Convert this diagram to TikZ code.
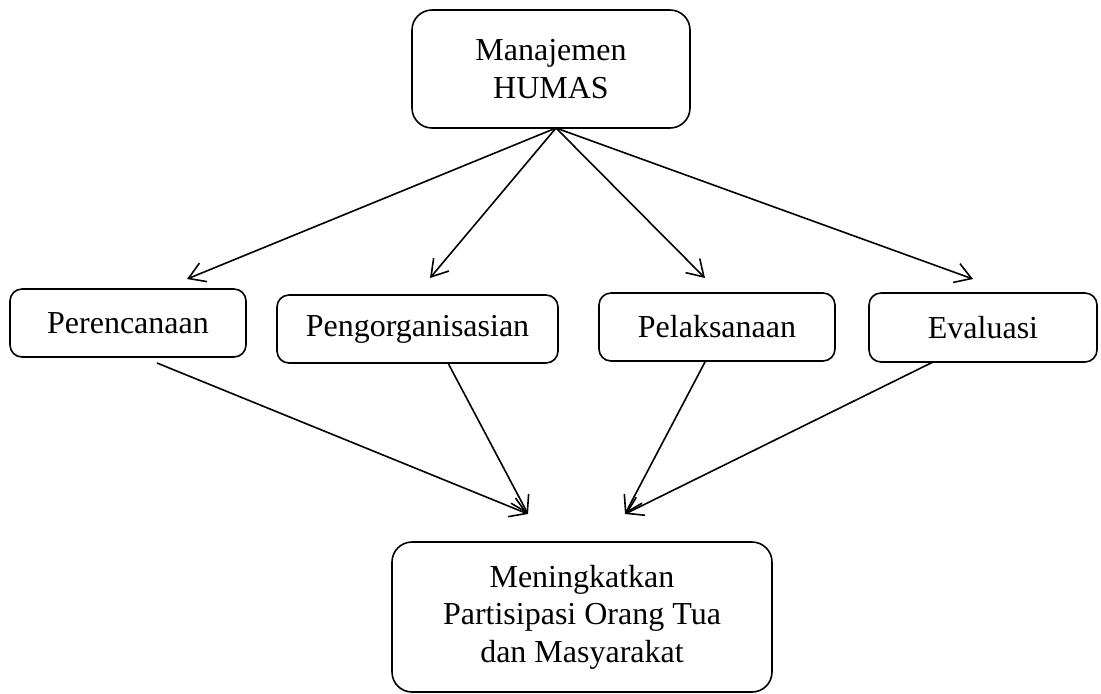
\documentclass[tikz,border=0pt]{standalone}
\usepackage{fontspec}
\setmainfont{Liberation Serif}
\usetikzlibrary{arrows.meta}

\begin{document}
\begin{tikzpicture}[x=0.5pt,y=-0.5pt,
  box/.style={draw, line width=0.8pt, rounded corners=6pt, align=center, inner sep=0pt,
    font=\fontsize{16pt}{18.75pt}\selectfont},
  arr/.style={line width=0.8pt, -{Straight Barb[length=8pt,width=10pt]}}]
\useasboundingbox (0,0) rectangle (1101,693);
\node[box, rounded corners=10pt, minimum width=139pt, minimum height=59pt](humas) at (551,69){Manajemen\\HUMAS};
\node[box, minimum width=118pt, minimum height=34pt](rencana) at (128,323){Perencanaan};
\node[box, minimum width=140.5pt, minimum height=34pt](organisasi) at (417.5,329){Pengorganisasian};
\node[box, minimum width=118pt, minimum height=34pt](laksana) at (717,327){Pelaksanaan};
\node[box, minimum width=114pt, minimum height=34.5pt](evaluasi) at (983,327.5){Evaluasi};
\node[box, rounded corners=10pt, minimum width=190pt, minimum height=75pt](partisipasi) at (582,617){Meningkatkan\\Partisipasi Orang Tua\\dan Masyarakat};
% ujung panah
\coordinate (hub) at (556,128);
\coordinate (t1) at (187,279);
\coordinate (t2) at (430,278);
\coordinate (t3) at (705,278);
\coordinate (t4) at (973,279);
\coordinate (b1) at (157,363);
\coordinate (b2) at (448,363);
\coordinate (b3) at (705,362);
\coordinate (b4) at (933,362);
\coordinate (m1) at (528,514);
\coordinate (m2) at (625,514);
\draw[arr] (hub) -- (t1);
\draw[arr] (hub) -- (t2);
\draw[arr] (hub) -- (t3);
\draw[arr] (hub) -- (t4);
\draw[arr] (b1) -- (m1);
\draw[arr] (b2) -- (m1);
\draw[arr] (b3) -- (m2);
\draw[arr] (b4) -- (m2);
\end{tikzpicture}
\end{document}
